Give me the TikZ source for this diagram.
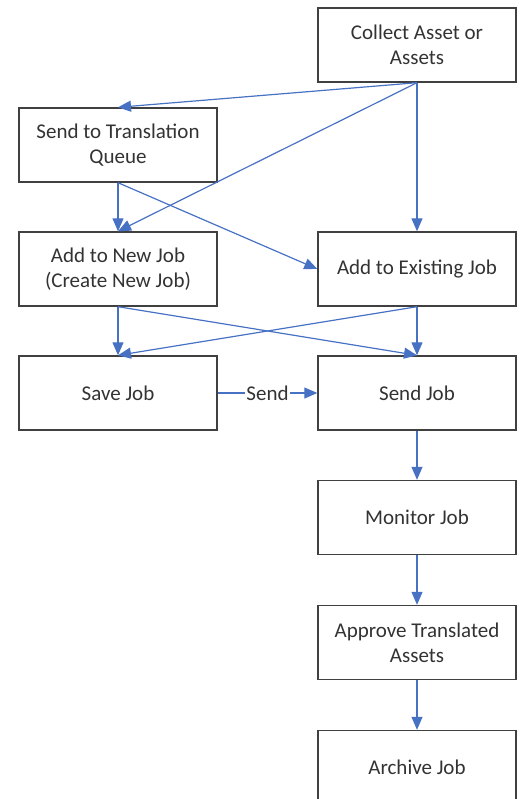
\documentclass[tikz,border=0pt]{standalone}
\usepackage{fontspec}
\setmainfont{Carlito}
\usetikzlibrary{arrows.meta}
\definecolor{boxgray}{RGB}{64,64,64}
\definecolor{flowblue}{RGB}{71,114,196}
\tikzset{
	stepbox/.style={draw=boxgray,line width=1.4pt,fill=white,minimum width=198pt,minimum height=74pt,align=center,inner sep=0pt,font=\fontsize{21}{25}\selectfont,text=black!80},
	flow/.style={draw=flowblue,line width=1.2pt,-{Triangle[length=13pt,width=11pt]}}
}
\begin{document}
\begin{tikzpicture}[x=1pt,y=-1pt]
			\useasboundingbox (0,0) rectangle (522,799);
			\clip (0,0) rectangle (522,799);
			\node[stepbox] (collect) at (417,45) {Collect Asset or\\Assets};
			\node[stepbox] (queue) at (118,145) {Send to Translation\\Queue};
			\node[stepbox] (newjob) at (118,269) {Add to New Job\\(Create New Job)};
			\node[stepbox] (existing) at (417,269) {Add to Existing Job};
			\node[stepbox] (save) at (118,393) {Save Job};
			\node[stepbox] (send) at (417,393) {Send Job};
			\node[stepbox] (monitor) at (417,517.5) {Monitor Job};
			\node[stepbox] (approve) at (417,642.5) {Approve Translated\\Assets};
			\node[stepbox] (archive) at (417,767.5) {Archive Job};
			\draw[flow] (collect.south) to (queue.north);
			\draw[flow] (collect.south) to (newjob.north);
			\draw[flow] (collect.south) to (existing.north);
			\draw[flow] (queue.south) to (newjob.north);
			\draw[flow] (queue.south) to (existing.west);
			\draw[flow] (newjob.south) to (save.north);
			\draw[flow] (newjob.south) to (send.north);
			\draw[flow] (existing.south) to (save.north);
			\draw[flow] (existing.south) to (send.north);
			\draw[flow] (save.east) to node[fill=white,inner sep=1pt,font=\fontsize{21}{25}\selectfont,text=black!80] (sendlabel) {Send} (send.west);
			\draw[flow] (send.south) to (monitor.north);
			\draw[flow] (monitor.south) to (approve.north);
			\draw[flow] (approve.south) to (archive.north);
		\end{tikzpicture}
\end{document}
